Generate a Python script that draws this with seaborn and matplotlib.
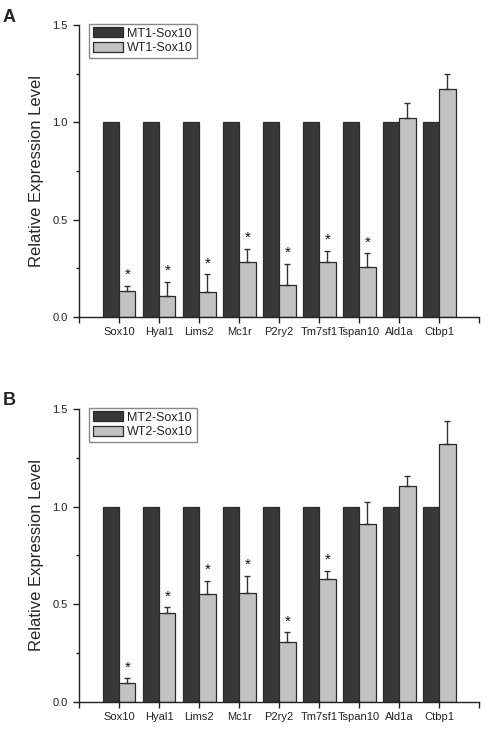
import pandas as pd
import seaborn as sns
import matplotlib.pyplot as plt
from matplotlib.ticker import MultipleLocator

genes = ['Sox10', 'Hyal1', 'Lims2', 'Mc1r', 'P2ry2', 'Tm7sf1', 'Tspan10', 'Ald1a', 'Ctbp1']

# Panel A
mt1 = [1.0, 1.0, 1.0, 1.0, 1.0, 1.0, 1.0, 1.0, 1.0]
wt1 = [0.133, 0.109, 0.127, 0.282, 0.166, 0.284, 0.255, 1.020, 1.169]
wt1_err = [0.027, 0.072, 0.092, 0.067, 0.106, 0.056, 0.072, 0.079, 0.077]
wt1_sig = [1, 1, 1, 1, 1, 1, 1, 0, 0]

# Panel B
mt2 = [1.0, 1.0, 1.0, 1.0, 1.0, 1.0, 1.0, 1.0, 1.0]
wt2 = [0.099, 0.455, 0.554, 0.560, 0.309, 0.632, 0.911, 1.104, 1.323]
wt2_err = [0.022, 0.029, 0.068, 0.084, 0.048, 0.040, 0.115, 0.053, 0.114]
wt2_sig = [1, 1, 1, 1, 1, 1, 0, 0, 0]

panels = [
    ('A', 'MT1-Sox10', 'WT1-Sox10', mt1, wt1, wt1_err, wt1_sig),
    ('B', 'MT2-Sox10', 'WT2-Sox10', mt2, wt2, wt2_err, wt2_sig),
]

sns.set_style('ticks')
plt.rcParams['font.family'] = ['Liberation Sans', 'DejaVu Sans']

dark = '#383838'
light = '#c2c2c2'

fig = plt.figure(figsize=(4.91, 7.42), dpi=100)
ax_pos = [[0.161, 0.5728, 0.815, 0.3935], [0.161, 0.0539, 0.815, 0.3949]]
letter_y = [0.988, 0.472]

for i, (letter, mt_name, wt_name, mt, wt, err, sig) in enumerate(panels):
    ax = fig.add_axes(ax_pos[i])
    df = pd.DataFrame({
        'gene': genes * 2,
        'value': mt + wt,
        'group': [mt_name] * len(genes) + [wt_name] * len(genes),
    })
    sns.barplot(data=df, x='gene', y='value', hue='group',
                palette=[dark, light], errorbar=None, width=0.82,
                edgecolor='#2a2a2a', linewidth=0.9, saturation=1, ax=ax)

    # error bars (upward only) and significance stars on the light bars
    for bar, e, s in zip(ax.containers[1], err, sig):
        xc = bar.get_x() + bar.get_width() / 2
        h = bar.get_height()
        ax.errorbar(xc, h, yerr=[[0], [e]], fmt='none', ecolor='#333333',
                    elinewidth=1.0, capsize=2.5, capthick=1.0)
        if s:
            ax.annotate('*', xy=(xc, h + e), xytext=(0, 5), textcoords='offset points',
                        ha='center', va='baseline', fontsize=11, color='#111111')

    ax.set_xlim(-1, 9)
    ax.set_ylim(0, 1.5)
    ax.set_xticks(range(-1, 10))
    ax.set_xticklabels([''] + genes + [''], fontsize=8)
    ax.set_yticks([0, 0.5, 1.0, 1.5])
    ax.set_yticklabels(['0.0', '0.5', '1.0', '1.5'], fontsize=8)
    ax.yaxis.set_minor_locator(MultipleLocator(0.25))
    ax.tick_params(axis='both', which='major', direction='out', length=4, width=1,
                   pad=3.5, colors='#222222')
    ax.tick_params(axis='y', which='major', pad=4)
    ax.tick_params(axis='y', which='minor', direction='out', length=2.5, width=1,
                   colors='#222222')
    ax.set_xlabel('')
    ax.set_ylabel('Relative Expression Level', fontsize=12, labelpad=6)
    sns.despine(ax=ax)
    for sp in ['left', 'bottom']:
        ax.spines[sp].set_linewidth(1.0)
        ax.spines[sp].set_color('#222222')

    ax.legend(loc='upper left', bbox_to_anchor=(0.025, 1.005), borderaxespad=0,
              fontsize=9, handlelength=2.4, handleheight=0.85, labelspacing=0.2,
              borderpad=0.3, handletextpad=0.35, fancybox=False, framealpha=1,
              edgecolor='#888888')

    fig.text(0.006, letter_y[i], letter, fontsize=13, fontweight='bold',
             ha='left', va='top')

plt.savefig('out.png', dpi=100)
